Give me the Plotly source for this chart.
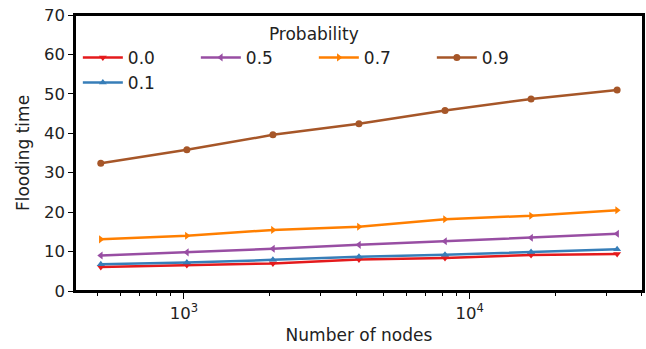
import plotly.graph_objects as go

nodes = [512, 1024, 2048, 4096, 8192, 16384, 32768]
p00 = [6.1, 6.6, 7.0, 8.0, 8.4, 9.1, 9.4]
p01 = [6.8, 7.2, 7.9, 8.7, 9.2, 9.9, 10.6]
p05 = [9.0, 9.8, 10.7, 11.7, 12.6, 13.5, 14.5]
p07 = [13.1, 14.0, 15.5, 16.3, 18.2, 19.1, 20.5]
p09 = [32.4, 35.8, 39.6, 42.4, 45.8, 48.7, 51.0]

major_ticks = [1000, 10000]
major_labels = ["10<sup>3</sup>", "10<sup>4</sup>"]
minor_ticks = [500, 600, 700, 800, 900,
               2000, 3000, 4000, 5000, 6000, 7000, 8000, 9000,
               20000, 30000, 40000]

series = [
    ("0.0", p00, "#e41a1c", "triangle-down"),
    ("0.5", p05, "#984ea3", "triangle-left"),
    ("0.7", p07, "#ff7f00", "triangle-right"),
    ("0.9", p09, "#a65628", "circle"),
    ("0.1", p01, "#377eb8", "triangle-up"),
]
draw_order = ["0.0", "0.1", "0.5", "0.7", "0.9"]

fig = go.Figure()
for rank, (name, vals, col, sym) in enumerate(series):
    fig.add_trace(go.Scatter(
        x=nodes, y=vals, name=name, mode="lines+markers",
        line=dict(color=col, width=2.5),
        marker=dict(color=col, symbol=sym, size=7),
        legendrank=rank + 1,
    ))
fig.data = tuple(sorted(fig.data, key=lambda t: draw_order.index(t.name)))

font = "DejaVu Sans, Arial, sans-serif"
fig.update_layout(
    width=646, height=349,
    margin=dict(l=75, r=3, t=15, b=58, autoexpand=False),
    plot_bgcolor="white", paper_bgcolor="white",
    font=dict(family=font, size=17, color="#222"),
    showlegend=True,
    legend=dict(
        orientation="h", x=0.005, y=0.99, xanchor="left", yanchor="top",
        title=dict(text="Probability", side="top center", font=dict(size=17)),
        font=dict(size=17), entrywidth=63, entrywidthmode="pixels",
        bgcolor="rgba(255,255,255,0)", tracegroupgap=2, itemwidth=40,
    ),
    xaxis=dict(
        type="log", range=[2.619, 4.606], automargin=False,
        tickvals=major_ticks, ticktext=major_labels,
        ticks="outside", ticklen=6, tickwidth=1.2, tickcolor="black",
        showgrid=False, zeroline=False,
        showline=True, linecolor="black", linewidth=1.5, mirror=True,
        minor=dict(tickvals=minor_ticks, ticks="outside", ticklen=3, tickwidth=1,
                   tickcolor="black", showgrid=False),
        title=dict(text="Number of nodes", font=dict(size=17), standoff=8),
        tickfont=dict(size=16.5),
    ),
    yaxis=dict(
        range=[0, 70], dtick=10, automargin=False, ticklabeloverflow="allow",
        ticks="outside", ticklen=5, tickwidth=1.2, tickcolor="black",
        showgrid=False, zeroline=False,
        showline=True, linecolor="black", linewidth=1.5, mirror=True,
        title=dict(text="Flooding time", font=dict(size=17), standoff=10),
        tickfont=dict(size=16.5),
    ),
    shapes=[dict(type="rect", xref="paper", yref="paper", x0=0, x1=1, y0=0, y1=1,
                 line=dict(color="black", width=2), fillcolor="rgba(0,0,0,0)",
                 layer="above")],
)
fig.write_html(
    "out.html",
    config={"displayModeBar": False},
    post_script="document.body.style.margin='0';document.body.style.overflow='hidden';",
)
